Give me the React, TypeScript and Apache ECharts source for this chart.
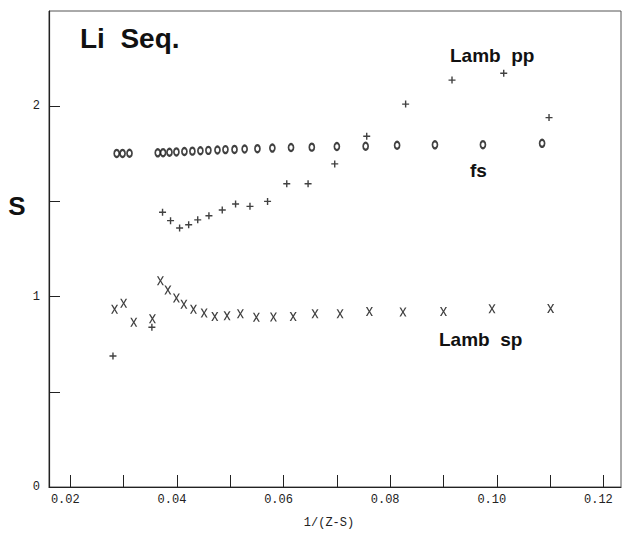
import { useEffect, useRef } from 'react';
import * as echarts from 'echarts';

// fs series (open circles)
const fsX = [0.0287, 0.0298, 0.0311, 0.0364, 0.0374, 0.0386, 0.0399, 0.0414, 0.0429, 0.0444, 0.0459, 0.0476, 0.0491, 0.0508, 0.0527, 0.0551, 0.0579, 0.0614, 0.0653, 0.0700, 0.0754, 0.0813, 0.0884, 0.0974, 0.1085];
const fsY = [1.752, 1.752, 1.753, 1.755, 1.756, 1.758, 1.760, 1.762, 1.764, 1.766, 1.768, 1.770, 1.772, 1.773, 1.775, 1.777, 1.780, 1.783, 1.785, 1.788, 1.790, 1.795, 1.797, 1.798, 1.805];

// Lamb pp series (plus)
const ppX = [0.0280, 0.0353, 0.0373, 0.0388, 0.0405, 0.0422, 0.0439, 0.0460, 0.0485, 0.0510, 0.0537, 0.0570, 0.0606, 0.0646, 0.0696, 0.0756, 0.0829, 0.0916, 0.1013, 0.1098];
const ppY = [0.688, 0.839, 1.443, 1.399, 1.360, 1.377, 1.403, 1.425, 1.455, 1.486, 1.474, 1.500, 1.593, 1.593, 1.697, 1.842, 2.011, 2.137, 2.173, 1.940];

// Lamb sp series (crosses)
const spX = [0.0283, 0.0300, 0.0319, 0.0354, 0.0369, 0.0383, 0.0399, 0.0413, 0.0431, 0.0451, 0.0471, 0.0494, 0.0519, 0.0549, 0.0581, 0.0618, 0.0659, 0.0706, 0.0761, 0.0824, 0.0900, 0.0991, 0.1101];
const spY = [0.934, 0.965, 0.865, 0.884, 1.083, 1.035, 0.992, 0.960, 0.934, 0.914, 0.896, 0.900, 0.910, 0.891, 0.893, 0.896, 0.910, 0.910, 0.922, 0.919, 0.922, 0.936, 0.937];

const xTickValues = [0.02, 0.03, 0.04, 0.05, 0.06, 0.07, 0.08, 0.09, 0.10, 0.11, 0.12];
const xLabelValues = [0.02, 0.04, 0.06, 0.08, 0.10, 0.12];
const yLabelValues = [0, 1, 2];
const yTickValues = [0.5, 1, 1.5, 2];

const pair = (xs: number[], ys: number[]) => xs.map((x, i) => [x, ys[i]]);

const PLUS = 'path://M4,0H6V4H10V6H6V10H4V6H0V4H4Z';
const CROSS = 'path://M0,0H2.2L5,4.2L7.8,0H10L6.1,5.5L10,11H7.8L5,6.8L2.2,11H0L3.9,5.5Z';

const INK = '#111';

export default function App() {
  const ref = useRef<HTMLDivElement>(null);
  useEffect(() => {
    const chart = echarts.init(ref.current!, null, { renderer: 'svg' });
    chart.setOption({
      animation: false,
      backgroundColor: '#fff',
      grid: { left: 49, top: 11, right: 2, bottom: 40, show: true, borderColor: '#555', borderWidth: 1 },
      xAxis: {
        type: 'value',
        min: 0.016,
        max: 0.1233,
        name: '1/(Z-S)',
        nameLocation: 'middle',
        nameGap: 30,
        nameTextStyle: { fontFamily: 'Liberation Mono', fontSize: 12, color: '#222', padding: [0, 12, 0, 0] },
        axisLine: { show: true, lineStyle: { color: '#222', width: 1.2 } },
        axisTick: { show: true, inside: true, length: 12, customValues: xTickValues, lineStyle: { color: '#222' } },
        axisLabel: {
          customValues: xLabelValues,
          formatter: (v: number) => v.toFixed(2),
          fontFamily: 'Liberation Mono',
          fontSize: 12,
          color: '#222',
          margin: 7,
          padding: [0, 10, 0, 0],
        },
        splitLine: { show: false },
      },
      yAxis: {
        type: 'value',
        min: 0,
        max: 2.5,
        axisLine: { show: true, lineStyle: { color: '#222', width: 1.2 } },
        axisTick: { show: true, inside: true, length: 11, customValues: yTickValues, lineStyle: { color: '#222' } },
        axisLabel: {
          customValues: yLabelValues,
          formatter: (v: number) => String(v),
          fontFamily: 'Liberation Mono',
          fontSize: 12,
          color: '#222',
          margin: 9,
        },
        splitLine: { show: false },
      },
      series: [
        {
          name: 'fs',
          type: 'scatter',
          data: pair(fsX, fsY),
          symbol: 'emptyCircle',
          symbolSize: [5, 7],
          itemStyle: { color: INK, borderWidth: 1.2 },
        },
        {
          name: 'Lamb pp',
          type: 'scatter',
          data: pair(ppX, ppY),
          symbol: PLUS,
          symbolSize: 7,
          itemStyle: { color: INK },
        },
        {
          name: 'Lamb sp',
          type: 'scatter',
          data: pair(spX, spY),
          symbol: CROSS,
          symbolSize: [7, 9],
          itemStyle: { color: INK },
        },
      ],
      graphic: [
        { type: 'text', left: 80, top: 24, style: { text: 'Li  Seq.', fontFamily: 'Liberation Sans', fontWeight: 'bold', fontSize: 28, fill: INK } },
        { type: 'text', x: 17, y: 206, style: { text: 'S', fontFamily: 'Liberation Sans', fontWeight: 'bold', fontSize: 26, fill: INK, align: 'center', verticalAlign: 'middle' } },
        { type: 'text', x: 450, y: 55, style: { text: 'Lamb  pp', fontFamily: 'Liberation Sans', fontWeight: 'bold', fontSize: 19, fill: INK, align: 'left', verticalAlign: 'middle' } },
        { type: 'text', x: 470, y: 170, style: { text: 'fs', fontFamily: 'Liberation Sans', fontWeight: 'bold', fontSize: 19, fill: INK, align: 'left', verticalAlign: 'middle' } },
        { type: 'text', x: 439, y: 339, style: { text: 'Lamb  sp', fontFamily: 'Liberation Sans', fontWeight: 'bold', fontSize: 19, fill: INK, align: 'left', verticalAlign: 'middle' } },
      ],
    });
    return () => chart.dispose();
  }, []);
  return <div ref={ref} style={{ position: 'absolute', left: 0, top: 0, width: 623, height: 534, background: '#fff' }} />;
}
